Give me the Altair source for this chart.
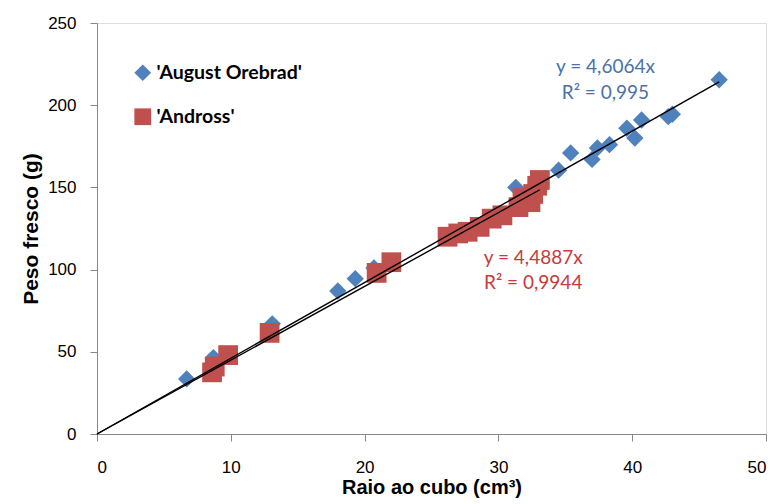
import altair as alt
import pandas as pd

# Fresh weight (g) against cubed radius (cm³) for two cultivars
august_name = "'August Orebrad'"
andross_name = "'Andross'"

august_x = [6.7, 8.7, 13.1, 18.0, 19.3, 20.7, 31.3, 34.5, 35.4, 37.0, 37.4, 38.3,
            39.6, 40.2, 40.7, 42.7, 43.0, 46.5]
august_y = [33.5, 46.5, 67.0, 87.0, 94.5, 101.0, 150.0, 160.5, 171.0, 167.0, 174.0,
            176.0, 186.0, 180.0, 191.0, 193.0, 194.5, 215.5]

andross_x = [8.6, 8.8, 9.8, 12.9, 20.9, 22.0, 26.2, 27.0, 27.7, 28.6, 29.5, 30.3,
             31.5, 31.8, 32.4, 32.6, 32.9, 33.1]
andross_y = [37.5, 41.0, 48.0, 61.5, 98.0, 104.5, 120.0, 122.0, 123.0, 126.0, 131.0,
             133.0, 138.0, 143.5, 141.0, 146.0, 151.0, 154.5]

# Linear trendlines forced through the origin
august_slope = 4.6064
andross_slope = 4.4887
august_r2 = "0,995"
andross_r2 = "0,9944"

x_ticks = [0, 10, 20, 30, 40, 50]
y_ticks = [0, 50, 100, 150, 200, 250]

blue = "#4F81BD"
red = "#C0504D"
font = "Lato"

august_df = pd.DataFrame({"x": august_x, "y": august_y, "series": august_name})
andross_df = pd.DataFrame({"x": andross_x, "y": andross_y, "series": andross_name})

trend = pd.DataFrame({
    "x": [0, max(august_x), 0, max(andross_x)],
    "y": [0, august_slope * max(august_x), 0, andross_slope * max(andross_x)],
    "series": [august_name, august_name, andross_name, andross_name],
})

x_scale = alt.Scale(domain=[0, 50], nice=False, zero=True)
y_scale = alt.Scale(domain=[0, 250], nice=False, zero=True)

x_axis = alt.Axis(values=x_ticks, title="Raio ao cubo (cm³)", grid=False,
                  labelFontSize=17, labelPadding=18, tickSize=7,
                  titleFontSize=20, titleFontWeight="bold", titlePadding=2)
y_axis = alt.Axis(values=y_ticks, title="Peso fresco (g)", grid=False,
                  labelFontSize=17, labelPadding=14, tickSize=7,
                  titleFontSize=21, titleFontWeight="bold", titlePadding=6)

series_domain = [august_name, andross_name]
color_enc = alt.Color(
    "series:N", sort=series_domain,
    scale=alt.Scale(domain=series_domain, range=[blue, red]),
    legend=alt.Legend(title=None, orient="none", legendX=36, legendY=40,
                      labelFontSize=19.5, labelFontWeight="bold",
                      labelFont=font, labelColor="#000",
                      symbolSize=280, symbolStrokeWidth=0,
                      rowPadding=23, labelOffset=4))
shape_enc = alt.Shape(
    "series:N", sort=series_domain,
    scale=alt.Scale(domain=series_domain, range=["diamond", "square"]),
    legend=alt.Legend(title=None))


def scatter(df, size):
    return alt.Chart(df).mark_point(filled=True, opacity=1, size=size).encode(
        x=alt.X("x:Q", scale=x_scale, axis=x_axis),
        y=alt.Y("y:Q", scale=y_scale, axis=y_axis),
        color=color_enc,
        shape=shape_enc,
    )


lines = alt.Chart(trend).mark_line(color="black", strokeWidth=1.4).encode(
    x=alt.X("x:Q", scale=x_scale),
    y=alt.Y("y:Q", scale=y_scale),
    detail="series:N",
)


def label(text, xv, yv, color):
    return alt.Chart().mark_text(text=text, font=font, fontSize=19, color=color,
                                 align="center", baseline="middle").encode(
        x=alt.datum(xv, scale=x_scale), y=alt.datum(yv, scale=y_scale))


labels = [
    label(f"y = {str(august_slope).replace('.', ',')}x", 38.0, 223.0, "#4A72A8"),
    label(f"R² = {august_r2}", 38.0, 207.5, "#4A72A8"),
    label(f"y = {str(andross_slope).replace('.', ',')}x", 32.6, 107.0, "#C83A3A"),
    label(f"R² = {andross_r2}", 32.6, 92.0, "#C83A3A"),
]

chart = alt.layer(scatter(august_df, 300), scatter(andross_df, 390), lines, *labels).properties(
    width=669, height=411,
    autosize=alt.AutoSizeParams(type="none"),
    padding={"left": 97, "top": 23, "right": 13, "bottom": 70},
).configure_view(stroke=None).configure_axis(
    domainColor="#888", tickColor="#888", labelColor="#333", titleColor="#000",
    labelFont=font, titleFont=font,
).configure(background="white")

chart.save("out.html", embed_options={"renderer": "svg", "actions": False})
